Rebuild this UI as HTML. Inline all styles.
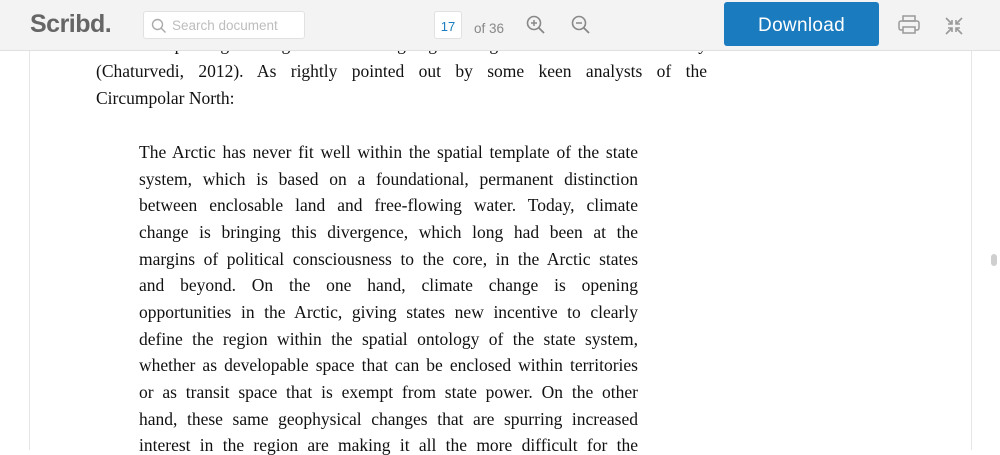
<!DOCTYPE html>
<html><head><meta charset="utf-8"><style>
html,body{margin:0;padding:0;width:1000px;height:450px;overflow:hidden;background:#fff;font-family:"Liberation Sans",sans-serif}
#hdr{position:absolute;left:0;top:0;width:1000px;height:50px;background:#f3f3f3;border-bottom:1px solid #e0e0e0;z-index:2}
.logo{position:absolute;left:30px;top:10px;font-size:25px;font-weight:bold;color:#666;letter-spacing:-0.5px}
.search{position:absolute;left:143px;top:11px;width:162px;height:28px;background:#fff;border:1px solid #e1e1e1;border-radius:3px;box-sizing:border-box}
.search span{position:absolute;left:28px;top:6px;font-size:13.5px;color:#bdbdbd}
.pg{position:absolute;left:434px;top:11px;width:28px;height:28px;background:#fff;border:1px solid #e1e1e1;border-radius:3px;box-sizing:border-box;text-align:center;font-size:13px;line-height:30px;color:#1a7bbf}
.of{position:absolute;left:474px;top:21px;font-size:13.5px;color:#888}
.dl{position:absolute;left:724px;top:2px;width:155px;height:44px;background:#1a7bbf;border-radius:3px;color:#fff;font-size:19px;text-align:center;line-height:48px;letter-spacing:0.3px}
#page{position:absolute;left:29px;top:0;width:941px;height:450px;border-left:1px solid #e6e6e6;border-right:1px solid #e6e6e6;background:#fff}
.t{position:absolute;font-family:"Liberation Serif",serif;font-size:17.5px;color:#111;text-align:justify;text-align-last:justify;white-space:nowrap;line-height:20px}
.l{text-align-last:left}
.sb{position:absolute;left:991px;top:254px;width:6px;height:12px;border-radius:3px;background:#cfcfcf}
</style></head><body>
<div id="page">
<div class="t" style="left:66px;top:34px;width:611px">such a prolonged neglect and ongoing changes in the Arctic today</div>
<div class="t" style="left:66px;top:61px;width:611px">(Chaturvedi, 2012). As rightly pointed out by some keen analysts of the</div>
<div class="t l" style="left:66px;top:88px;width:611px">Circumpolar North:</div>
</div>
<div id="quote">
<div class="t" style="left:139px;top:142px;width:499px">The Arctic has never fit well within the spatial template of the state</div>
<div class="t" style="left:139px;top:169px;width:499px">system, which is based on a foundational, permanent distinction</div>
<div class="t" style="left:139px;top:195px;width:499px">between enclosable land and free-flowing water. Today, climate</div>
<div class="t" style="left:139px;top:222px;width:499px">change is bringing this divergence, which long had been at the</div>
<div class="t" style="left:139px;top:249px;width:499px">margins of political consciousness to the core, in the Arctic states</div>
<div class="t" style="left:139px;top:275px;width:499px">and beyond. On the one hand, climate change is opening</div>
<div class="t" style="left:139px;top:302px;width:499px">opportunities in the Arctic, giving states new incentive to clearly</div>
<div class="t" style="left:139px;top:329px;width:499px">define the region within the spatial ontology of the state system,</div>
<div class="t" style="left:139px;top:355px;width:499px">whether as developable space that can be enclosed within territories</div>
<div class="t" style="left:139px;top:382px;width:499px">or as transit space that is exempt from state power. On the other</div>
<div class="t" style="left:139px;top:409px;width:499px">hand, these same geophysical changes that are spurring increased</div>
<div class="t" style="left:139px;top:435px;width:499px">interest in the region are making it all the more difficult for the</div>
</div>
<div id="hdr">
<div class="logo">Scribd.</div>
<div class="search">
<svg style="position:absolute;left:7px;top:6px" width="16" height="16" viewBox="0 0 16 16"><circle cx="6.5" cy="6.5" r="5" fill="none" stroke="#aaa" stroke-width="1.4"/><line x1="10" y1="10" x2="14.5" y2="14.5" stroke="#aaa" stroke-width="1.4"/></svg>
<span>Search document</span></div>
<div class="pg">17</div>
<div class="of">of 36</div>
<svg style="position:absolute;left:526px;top:15px" width="20" height="20" viewBox="0 0 20 20"><circle cx="8" cy="8" r="6.5" fill="none" stroke="#888" stroke-width="1.6"/><line x1="12.7" y1="12.7" x2="18" y2="18" stroke="#888" stroke-width="1.8"/><line x1="5" y1="8" x2="11" y2="8" stroke="#888" stroke-width="1.5"/><line x1="8" y1="5" x2="8" y2="11" stroke="#888" stroke-width="1.5"/></svg>
<svg style="position:absolute;left:571px;top:15px" width="20" height="20" viewBox="0 0 20 20"><circle cx="8" cy="8" r="6.5" fill="none" stroke="#888" stroke-width="1.6"/><line x1="12.7" y1="12.7" x2="18" y2="18" stroke="#888" stroke-width="1.8"/><line x1="5" y1="8" x2="11" y2="8" stroke="#888" stroke-width="1.5"/></svg>
<div class="dl">Download</div>
<svg style="position:absolute;left:898px;top:15px" width="22" height="20" viewBox="0 0 22 20"><rect x="5" y="1" width="12" height="5" fill="none" stroke="#999" stroke-width="1.5"/><rect x="1" y="6" width="20" height="9" rx="2" fill="none" stroke="#999" stroke-width="1.5"/><rect x="5" y="12" width="12" height="6" fill="#f3f3f3" stroke="#999" stroke-width="1.5"/></svg>
<svg style="position:absolute;left:945px;top:17px" width="18" height="18" viewBox="0 0 18 18"><g stroke="#999" stroke-width="1.6" fill="none"><path d="M1 1L7 7M3 7H7V3"/><path d="M17 1L11 7M15 7H11V3"/><path d="M1 17L7 11M3 11H7V15"/><path d="M17 17L11 11M15 11H11V15"/></g></svg>
</div>
<div class="sb"></div>
</body></html>
